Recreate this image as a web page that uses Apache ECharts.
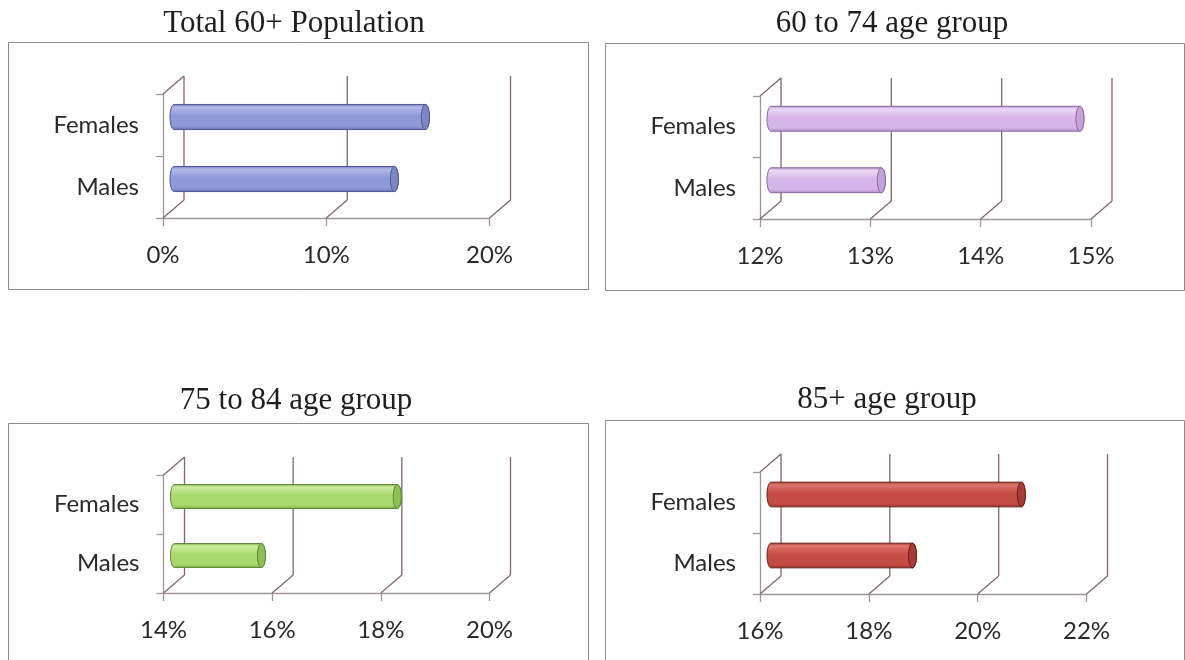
<!DOCTYPE html>
<html>
<head>
<meta charset="utf-8">
<script src="https://cdn.jsdelivr.net/npm/echarts@6/dist/echarts.min.js"></script>
<style>
  html, body { margin: 0; padding: 0; background: #ffffff; }
  #chart { width: 1185px; height: 660px; }
</style>
</head>
<body>
<div id="chart"></div>
<script>
// Share of each age group, by sex (percent)
const panelTitles = ['Total 60+ Population', '60 to 74 age group', '75 to 84 age group', '85+ age group'];
const categories = ['Males', 'Females'];
const malesShare = [13.5, 13.0, 15.6, 18.6];
const femalesShare = [15.4, 14.8, 18.1, 20.6];

// Value-axis tick labels of each panel
const ticks60plus = [0, 10, 20];
const ticks60to74 = [12, 13, 14, 15];
const ticks75to84 = [14, 16, 18, 20];
const ticks85plus = [16, 18, 20, 22];
const tickSets = [ticks60plus, ticks60to74, ticks75to84, ticks85plus];

// ---- layout and look ----
const DX = 21, DY = -18;          // depth offset of the back wall
const BAR_DX = 11, BAR_DY = -8;   // bars sit half way into the depth
const WALL = '#7d6868';
const AXIS = '#a09898';
const LABEL_FONT = 'Lato, "Open Sans", sans-serif';
const TITLE_FONT = '"Liberation Serif", "DejaVu Serif", serif';

const layout = [
  { grid: { left: 163, top: 94, width: 326.5, height: 124 }, frame: [8, 42, 580, 247], title: [294, 24] },
  { grid: { left: 760, top: 96, width: 331, height: 123 }, frame: [605, 43, 579, 247], title: [892, 24] },
  { grid: { left: 163.5, top: 475, width: 326, height: 118 }, frame: [8, 423, 580, 260], title: [296, 401] },
  { grid: { left: 760, top: 472, width: 326.5, height: 122 }, frame: [605, 420, 579, 260], title: [887, 400] }
];

const palettes = [
  { light: '#b3bbec', base: '#8f99d5', dark: '#666fad', face: '#7e87c6', edge: '#4f5792' },
  { light: '#ecd9f6', base: '#d6b6e8', dark: '#ae8ac4', face: '#c4a2da', edge: '#8a689e' },
  { light: '#cdeea0', base: '#a9d96d', dark: '#7fae48', face: '#8dbf55', edge: '#5b8832' },
  { light: '#df756d', base: '#c64d46', dark: '#98302b', face: '#a83b36', edge: '#6a1d19' }
];

function ellipseArc(cx, cy, rx, ry, a0, a1, n) {
  const pts = [];
  for (let k = 0; k <= n; k++) {
    const t = a0 + (a1 - a0) * k / n;
    pts.push([cx + rx * Math.cos(t), cy + ry * Math.sin(t)]);
  }
  return pts;
}

// Floor diagonals, back-wall verticals and the side-wall top edge, one set per tick
function makeWallRenderer() {
  return function (params, api) {
    const cs = params.coordSys;
    const x = api.coord([api.value(0), 0])[0];
    const top = cs.y, floor = cs.y + cs.height;
    const style = { stroke: WALL, lineWidth: 1.3, fill: null };
    const children = [
      { type: 'line', shape: { x1: x, y1: floor, x2: x + DX, y2: floor + DY }, style },
      { type: 'line', shape: { x1: x + DX, y1: floor + DY, x2: x + DX, y2: top + DY }, style }
    ];
    if (params.dataIndex === 0) {
      children.push({ type: 'line', shape: { x1: x, y1: top, x2: x + DX, y2: top + DY }, style });
    }
    return { type: 'group', children };
  };
}

// Cylinder bar: shaded body with a rounded left end and an elliptical end face
function makeBarRenderer(i) {
  const pal = palettes[i];
  const xMin = tickSets[i][0];
  return function (params, api) {
    const cat = api.value(1);
    const p0 = api.coord([xMin, cat]);
    const p1 = api.coord([api.value(0), cat]);
    const band = api.size([0, 1])[1];
    const h = band * 0.405;
    const ry = h / 2, rx = 4;
    const x0 = p0[0] + BAR_DX, x1 = p1[0] + BAR_DX, cy = p0[1] + BAR_DY;
    const body = ellipseArc(x0, cy, rx, ry, -Math.PI / 2, -3 * Math.PI / 2, 16)
      .concat(ellipseArc(x1, cy, rx, ry, Math.PI / 2, -Math.PI / 2, 16));
    const face = ellipseArc(x1, cy, rx, ry, 0, 2 * Math.PI, 32);
    return {
      type: 'group',
      children: [
        {
          type: 'polygon',
          shape: { points: body },
          style: {
            fill: new echarts.graphic.LinearGradient(0, 0, 0, 1, [
              { offset: 0, color: pal.dark },
              { offset: 0.12, color: pal.light },
              { offset: 0.45, color: pal.base },
              { offset: 0.85, color: pal.base },
              { offset: 1, color: pal.dark }
            ]),
            stroke: pal.edge,
            lineWidth: 1
          }
        },
        {
          type: 'polygon',
          shape: { points: face },
          style: { fill: pal.face, stroke: pal.edge, lineWidth: 1 }
        }
      ]
    };
  };
}

const grids = [], xAxes = [], yAxes = [], series = [], graphics = [];

layout.forEach((lay, i) => {
  const ticks = tickSets[i];
  grids.push(Object.assign({ containLabel: false }, lay.grid));
  xAxes.push({
    type: 'value', gridIndex: i,
    min: ticks[0], max: ticks[ticks.length - 1], interval: ticks[1] - ticks[0],
    axisLine: { show: true, lineStyle: { color: AXIS, width: 1.3 } },
    axisTick: { show: true, length: 8, lineStyle: { color: AXIS, width: 1.3 } },
    splitLine: { show: false },
    axisLabel: { formatter: '{value}%', margin: 25, fontSize: 24, fontFamily: LABEL_FONT, color: '#2a2a2a' }
  });
  yAxes.push({
    type: 'category', gridIndex: i, data: categories,
    axisLine: { show: true, lineStyle: { color: AXIS, width: 1.3 } },
    axisTick: { show: true, length: 7, lineStyle: { color: AXIS, width: 1.3 } },
    splitLine: { show: false },
    axisLabel: { margin: 24, fontSize: 24, fontFamily: LABEL_FONT, color: '#2a2a2a' }
  });
  series.push({
    type: 'custom', name: 'wall' + i, xAxisIndex: i, yAxisIndex: i,
    renderItem: makeWallRenderer(), encode: { x: 0, y: 1 },
    data: ticks.map(v => [v, 0]), z: 1, silent: true, clip: false
  });
  series.push({
    type: 'custom', name: panelTitles[i], xAxisIndex: i, yAxisIndex: i,
    renderItem: makeBarRenderer(i), encode: { x: 0, y: 1 },
    data: [[malesShare[i], 0], [femalesShare[i], 1]], z: 5, clip: false
  });
  const f = lay.frame;
  graphics.push({
    type: 'rect', shape: { x: f[0] + 0.5, y: f[1] + 0.5, width: f[2], height: f[3] },
    style: { fill: null, stroke: '#8c8c8c', lineWidth: 1 }, silent: true, z: 0
  });
  graphics.push({
    type: 'text', x: lay.title[0], y: lay.title[1],
    style: {
      text: panelTitles[i], font: '31px ' + TITLE_FONT, fill: '#1e1e1e',
      textAlign: 'center', textVerticalAlign: 'middle'
    },
    silent: true
  });
});

const chart = echarts.init(document.getElementById('chart'), null, { renderer: 'canvas' });
chart.setOption({
  animation: false,
  backgroundColor: '#ffffff',
  grid: grids,
  xAxis: xAxes,
  yAxis: yAxes,
  series: series,
  graphic: graphics
});
</script>
</body>
</html>
